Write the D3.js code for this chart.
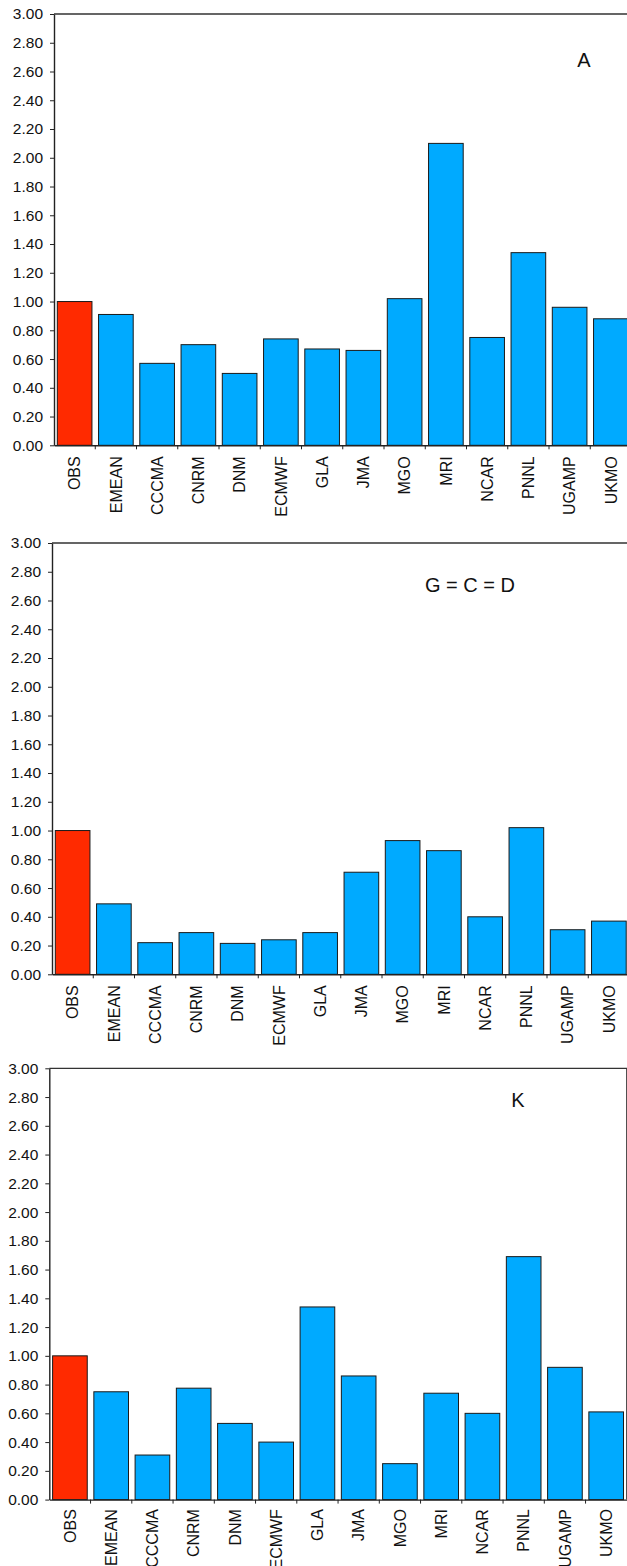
<!DOCTYPE html>
<html>
<head>
<meta charset="utf-8">
<script src="https://cdn.jsdelivr.net/npm/d3@7"></script>
<style>
  body { margin: 0; background: #fff; }
  svg { display: block; font-family: "Liberation Sans", Arial, Helvetica, sans-serif; }
</style>
</head>
<body>
<div id="chart"></div>
<script>
// categories (models), first one is the observation
var categories = ["OBS", "EMEAN", "CCCMA", "CNRM", "DNM", "ECMWF", "GLA", "JMA", "MGO", "MRI", "NCAR", "PNNL", "UGAMP", "UKMO"];

// normalised values
var valuesA   = [1.00, 0.91, 0.57, 0.70, 0.50, 0.74, 0.67, 0.66, 1.02, 2.10, 0.75, 1.34, 0.96, 0.88];
var valuesGCD = [1.00, 0.49, 0.22, 0.29, 0.215, 0.24, 0.29, 0.71, 0.93, 0.86, 0.40, 1.02, 0.31, 0.37];
var valuesK   = [1.00, 0.75, 0.31, 0.775, 0.53, 0.40, 1.34, 0.86, 0.25, 0.74, 0.60, 1.69, 0.92, 0.61];

var panelLabels = ["A", "G = C = D", "K"];
var yTicks = [0, 0.2, 0.4, 0.6, 0.8, 1.0, 1.2, 1.4, 1.6, 1.8, 2.0, 2.2, 2.4, 2.6, 2.8, 3.0];

var obsColor = "#ff2a00";
var modelColor = "#00aaff";

// where each panel sits on the page
var layout = [
    {left: 54,   top: 14,     labelX: 584, labelY: 67,   catGap: 11},
    {left: 52,   top: 543,    labelX: 470, labelY: 592,  catGap: 11},
    {left: 49.3, top: 1068.3, labelX: 518, labelY: 1107, catGap: 9.5}
];
var panelData = [valuesA, valuesGCD, valuesK];

var W = 627, H = 1566;
var plotW = 577.5, plotH = 431.3;

var svg = d3.select("#chart").append("svg")
    .attr("width", W)
    .attr("height", H);

var x = d3.scaleBand()
    .domain(categories)
    .range([0, plotW])
    .paddingInner(0.16)
    .paddingOuter(0.08);

var y = d3.scaleLinear()
    .domain([0, 3])
    .range([plotH, 0]);

function drawPanel(values, lay, label) {
    var g = svg.append("g")
        .attr("transform", "translate(" + lay.left + "," + lay.top + ")");

    var step = x.step();
    var off = step * x.paddingOuter();

    // frame on top and right
    g.append("path")
        .attr("d", "M0,0H" + plotW + "V" + plotH)
        .attr("fill", "none")
        .attr("stroke", "#333")
        .attr("stroke-width", 1.3);

    // bars
    g.selectAll("rect.bar")
        .data(values)
        .enter().append("rect")
        .attr("class", "bar")
        .attr("x", function (d, i) { return x(categories[i]); })
        .attr("y", function (d) { return y(d); })
        .attr("width", x.bandwidth())
        .attr("height", function (d) { return y(0) - y(d); })
        .attr("fill", function (d, i) { return i === 0 ? obsColor : modelColor; })
        .attr("stroke", "#1a1a1a")
        .attr("stroke-width", 1);

    // y axis
    var ya = g.append("g")
        .call(d3.axisLeft(y)
            .tickValues(yTicks)
            .tickFormat(d3.format(".2f"))
            .tickSize(4)
            .tickSizeOuter(0)
            .tickPadding(7));
    ya.select(".domain").attr("stroke", "#222").attr("stroke-width", 1.4);
    ya.selectAll(".tick line").attr("stroke", "#222");
    ya.selectAll(".tick text")
        .attr("font-size", "15.5px")
        .attr("font-family", "Liberation Sans, Arial, sans-serif")
        .attr("fill", "#111");

    // x axis with rotated labels
    var xa = g.append("g")
        .attr("transform", "translate(0," + plotH + ")")
        .call(d3.axisBottom(x).tickSize(0).tickSizeOuter(0).tickPadding(0));
    xa.select(".domain").attr("stroke", "#222").attr("stroke-width", 1.4);
    xa.selectAll(".tick text")
        .attr("font-size", "16px")
        .attr("font-family", "Liberation Sans, Arial, sans-serif")
        .attr("fill", "#111")
        .attr("text-anchor", "end")
        .attr("transform", "translate(0," + lay.catGap + ") rotate(-90)")
        .attr("x", 0)
        .attr("y", 0)
        .attr("dy", "0.36em");

    // separator ticks between categories
    g.selectAll("line.sep")
        .data(categories.slice(1))
        .enter().append("line")
        .attr("class", "sep")
        .attr("x1", function (c) { return x(c) - off; })
        .attr("x2", function (c) { return x(c) - off; })
        .attr("y1", plotH)
        .attr("y2", plotH + 4)
        .attr("stroke", "#222")
        .attr("stroke-width", 1);

    svg.append("text")
        .attr("x", lay.labelX)
        .attr("y", lay.labelY)
        .attr("text-anchor", "middle")
        .attr("font-size", "20px")
        .attr("fill", "#111")
        .text(label);
}

for (var i = 0; i < layout.length; i++) {
    drawPanel(panelData[i], layout[i], panelLabels[i]);
}
</script>
</body>
</html>
